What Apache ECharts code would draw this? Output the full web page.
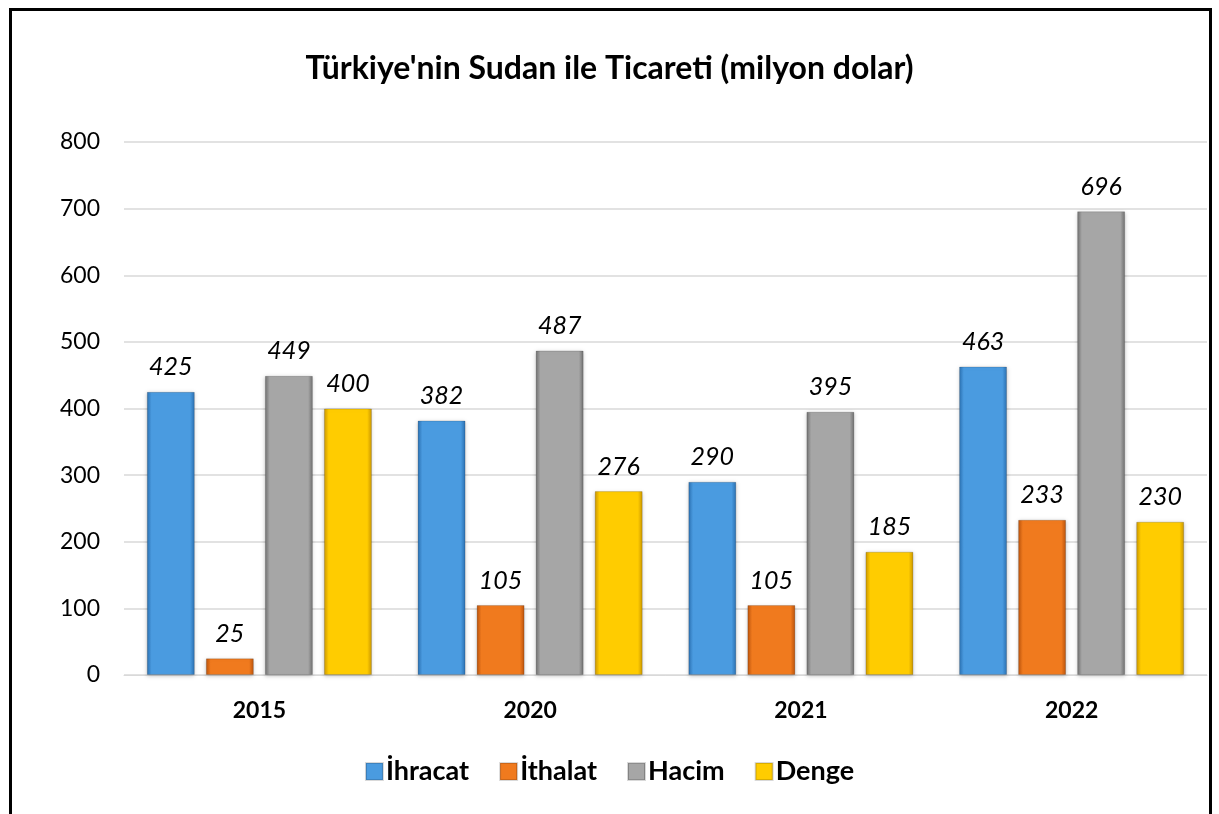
<!DOCTYPE html>
<html>
<head>
<meta charset="utf-8">
<script src="https://cdn.jsdelivr.net/npm/echarts@6/dist/echarts.min.js"></script>
<style>
html, body { margin: 0; padding: 0; background: #fff; overflow: hidden; }
#frame { position: absolute; left: 9px; top: 8px; width: 1203px; height: 830px; border: 3px solid #000; box-sizing: border-box; }
#main { position: absolute; left: 0; top: 0; width: 1219px; height: 814px; }
</style>
</head>
<body>
<div id="frame"></div>
<div id="main"></div>
<script>
var years = ['2015', '2020', '2021', '2022'];
var ihracat = [425, 382, 290, 463];
var ithalat = [25, 105, 105, 233];
var hacim = [449, 487, 395, 696];
var denge = [400, 276, 185, 230];

var font = 'Lato, "Open Sans", sans-serif';

// dark edges, light middle -> looks like the bevelled bars
function bevel(dark, light) {
    return new echarts.graphic.LinearGradient(0, 0, 1, 0, [
        { offset: 0, color: dark },
        { offset: 0.1, color: light },
        { offset: 0.9, color: light },
        { offset: 1, color: dark }
    ]);
}

function makeSeries(name, values, dark, light) {
    return {
        name: name,
        type: 'bar',
        data: values,
        barWidth: 48,
        barGap: '23%',
        itemStyle: {
            color: bevel(dark, light),
            borderColor: 'rgba(0,0,0,0.15)',
            borderWidth: 1,
            shadowBlur: 4,
            shadowColor: 'rgba(0,0,0,0.25)',
            shadowOffsetY: 1
        },
        label: {
            show: true,
            position: 'top',
            distance: 12,
            fontFamily: font,
            fontStyle: 'italic',
            fontSize: 25,
            color: '#000'
        }
    };
}

var myChart = echarts.init(document.getElementById('main'));
var option = {
    animation: false,
    title: {
        text: "Türkiye'nin Sudan ile Ticareti (milyon dolar)",
        left: 'center',
        top: 48,
        textStyle: { fontFamily: font, fontWeight: 'bold', fontSize: 32, color: '#000' }
    },
    legend: {
        bottom: 24,
        left: 'center',
        itemWidth: 17,
        itemHeight: 17,
        itemGap: 30,
        icon: 'rect',
        textStyle: { fontFamily: font, fontWeight: 'bold', fontSize: 27, color: '#000', padding: [0, 0, 0, -2] },
        data: ['İhracat', 'İthalat', 'Hacim', 'Denge']
    },
    grid: { left: 124, right: 12, top: 142, bottom: 139 },
    xAxis: {
        type: 'category',
        data: years,
        axisLine: { lineStyle: { color: '#d9d9d9' } },
        axisTick: { show: false },
        axisLabel: { fontFamily: font, fontWeight: 'bold', fontSize: 23, color: '#000', margin: 24 }
    },
    yAxis: {
        type: 'value',
        min: 0,
        max: 800,
        interval: 100,
        axisLine: { show: false },
        axisTick: { show: false },
        splitLine: { lineStyle: { color: '#d9d9d9', width: 1.5 } },
        axisLabel: { fontFamily: font, fontSize: 23, color: '#000', margin: 24 }
    },
    series: [
        makeSeries('İhracat', ihracat, '#2a6fb0', '#4a9be0'),
        makeSeries('İthalat', ithalat, '#b8520c', '#f07a1e'),
        makeSeries('Hacim', hacim, '#6e6e6e', '#a6a6a6'),
        makeSeries('Denge', denge, '#c99500', '#ffcc00')
    ]
};
myChart.setOption(option);
</script>
</body>
</html>
